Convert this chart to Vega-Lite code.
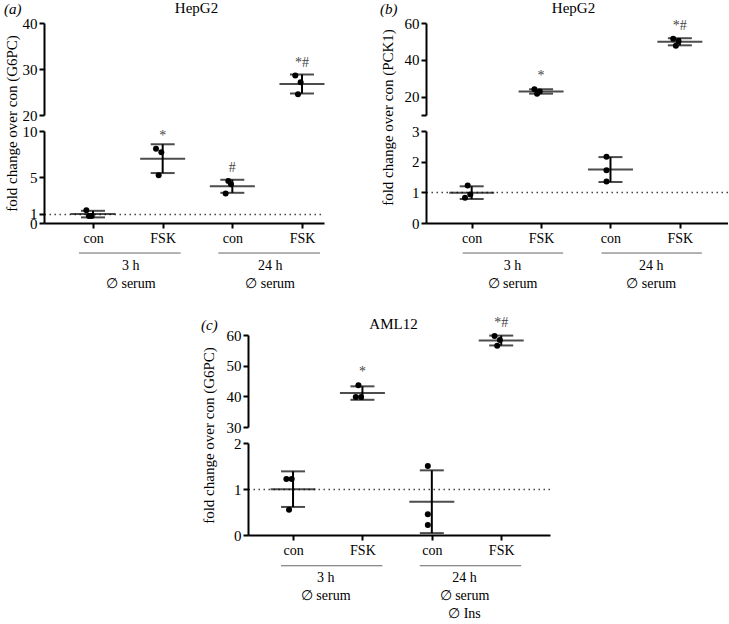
{
  "$schema": "https://vega.github.io/schema/vega-lite/v6.json",
  "background": "white",
  "padding": {"left": 4, "top": 0, "right": 0, "bottom": 0},
  "datasets": {
    "a": [
      {"cond": "con 3h", "rep": "L", "value": 1.38},
      {"cond": "con 3h", "rep": "C", "value": 0.76},
      {"cond": "con 3h", "rep": "R", "value": 0.76},
      {"cond": "FSK 3h", "rep": "L", "value": 8.08},
      {"cond": "FSK 3h", "rep": "R", "value": 7.7},
      {"cond": "FSK 3h", "rep": "C", "value": 5.2},
      {"cond": "con 24h", "rep": "C", "value": 4.57},
      {"cond": "con 24h", "rep": "R", "value": 4.2},
      {"cond": "con 24h", "rep": "L", "value": 3.2},
      {"cond": "FSK 24h", "rep": "L", "value": 28.6},
      {"cond": "FSK 24h", "rep": "R", "value": 27.1},
      {"cond": "FSK 24h", "rep": "C", "value": 24.5}
    ],
    "b": [
      {"cond": "con 3h", "rep": "C", "value": 1.22},
      {"cond": "con 3h", "rep": "L", "value": 0.82},
      {"cond": "con 3h", "rep": "R", "value": 0.93},
      {"cond": "FSK 3h", "rep": "L", "value": 24.0},
      {"cond": "FSK 3h", "rep": "C", "value": 21.6},
      {"cond": "FSK 3h", "rep": "R", "value": 22.8},
      {"cond": "con 24h", "rep": "C", "value": 2.16},
      {"cond": "con 24h", "rep": "C", "value": 1.72},
      {"cond": "con 24h", "rep": "C", "value": 1.35},
      {"cond": "FSK 24h", "rep": "L", "value": 51.5},
      {"cond": "FSK 24h", "rep": "R", "value": 50.2},
      {"cond": "FSK 24h", "rep": "C", "value": 47.7}
    ],
    "c": [
      {"cond": "con 3h", "rep": "L", "value": 1.22},
      {"cond": "con 3h", "rep": "R", "value": 1.22},
      {"cond": "con 3h", "rep": "C", "value": 0.55},
      {"cond": "FSK 3h", "rep": "C", "value": 43.6},
      {"cond": "FSK 3h", "rep": "L", "value": 39.8},
      {"cond": "FSK 3h", "rep": "R", "value": 39.8},
      {"cond": "con 24h", "rep": "C", "value": 1.5},
      {"cond": "con 24h", "rep": "C", "value": 0.45},
      {"cond": "con 24h", "rep": "C", "value": 0.22},
      {"cond": "FSK 24h", "rep": "L", "value": 59.7},
      {"cond": "FSK 24h", "rep": "R", "value": 58.4},
      {"cond": "FSK 24h", "rep": "C", "value": 56.5}
    ]
  },
  "vconcat": [
    {
      "hconcat": [
        {
          "vconcat": [
            {
              "width": 280, "height": 92,
              "title": {"text": "(a)", "anchor": "start", "frame": "bounds", "offset": -17, "fontStyle": "italic", "font": "Liberation Serif", "fontSize": 15, "fontWeight": "normal", "color": "black"},
              "data": {"name": "a"},
              "transform": [{"filter": "datum.value > 15"}],
              "encoding": {
                "x": {"field": "cond", "type": "nominal", "scale": {"type": "point", "domain": ["con 3h", "FSK 3h", "con 24h", "FSK 24h"], "padding": 0.51, "align": 0.69}, "axis": {"orient": "top", "title": "HepG2", "domain": false, "ticks": false, "labels": false, "grid": false, "titleY": -16, "titleBaseline": "middle", "titleX": 152, "titleFont": "Liberation Serif", "titleFontSize": 15, "titleFontWeight": "normal", "titleColor": "black"}},
                "y": {"field": "value", "type": "quantitative", "scale": {"domain": [20, 40], "nice": false, "zero": false}, "axis": {"values": [20, 30, 40], "title": "fold change over con (G6PC)", "titleY": 100, "titleX": -25, "domainColor": "black", "domainWidth": 2, "tickColor": "black", "tickWidth": 2, "tickSize": 5, "labelFont": "Liberation Serif", "labelFontSize": 15, "labelColor": "black", "labelPadding": 2, "labelOverlap": false, "labelBound": false, "titleFont": "Liberation Serif", "titleFontSize": 15, "titleFontWeight": "normal", "titleColor": "black", "grid": false}}
              },
              "layer": [
                {"mark": {"type": "errorbar", "extent": "stdev", "color": "black", "rule": {"strokeWidth": 2}, "ticks": {"size": 24, "thickness": 2}}},
                {"transform": [{"aggregate": [{"op": "mean", "field": "value", "as": "value"}], "groupby": ["cond"]}],
                 "mark": {"type": "tick", "orient": "horizontal", "size": 45, "thickness": 2, "color": "black"}},
                {"mark": {"type": "circle", "size": 36, "color": "black", "opacity": 1},
                 "encoding": {"xOffset": {"field": "rep", "type": "nominal", "scale": {"domain": ["L", "C", "R"], "range": [-8, 0, 8]}}}},
                {"transform": [
                   {"joinaggregate": [{"op": "max", "field": "value", "as": "vmax"}], "groupby": ["cond"]},
                   {"filter": "datum.value === datum.vmax"},
                   {"lookup": "cond", "from": {"data": {"values": [{"cond": "FSK 3h", "sig": "*"}, {"cond": "con 24h", "sig": "#"}, {"cond": "FSK 24h", "sig": "*#"}]}, "key": "cond", "fields": ["sig"]}},
                   {"filter": "isValid(datum.sig)"}],
                 "mark": {"type": "text", "dy": -12, "font": "Liberation Serif", "fontSize": 14, "fill": "#444"},
                 "encoding": {"text": {"field": "sig"}}}
              ]
            },
            {
              "width": 280, "height": 92,
              "data": {"name": "a"},
              "transform": [{"filter": "datum.value < 15"}],
              "encoding": {
                "x": {"field": "cond", "type": "nominal", "scale": {"type": "point", "domain": ["con 3h", "FSK 3h", "con 24h", "FSK 24h"], "padding": 0.51, "align": 0.69}, "axis": {"title": null, "labelExpr": "split(datum.value, ' ')[0]", "labelAngle": 0, "labelPadding": 3, "domainColor": "black", "domainWidth": 2, "tickColor": "black", "tickWidth": 2, "tickSize": 5, "labelFont": "Liberation Serif", "labelFontSize": 14, "labelColor": "black", "labelOverlap": false, "labelBound": false, "grid": false}},
                "y": {"field": "value", "type": "quantitative", "scale": {"domain": [0, 10], "nice": false, "zero": false}, "axis": {"values": [0, 1, 5, 10], "title": null, "domainColor": "black", "domainWidth": 2, "tickColor": "black", "tickWidth": 2, "tickSize": 5, "labelFont": "Liberation Serif", "labelFontSize": 15, "labelColor": "black", "labelPadding": 2, "labelOverlap": false, "labelBound": false, "grid": true, "gridColor": "#444", "gridWidth": 1.5, "gridDash": [1.5, 3.5], "gridOpacity": {"condition": {"test": "abs(datum.value - 1) < 0.001", "value": 1}, "value": 0}}}
              },
              "layer": [
                {"mark": {"type": "errorbar", "extent": "stdev", "color": "black", "rule": {"strokeWidth": 2}, "ticks": {"size": 24, "thickness": 2}}},
                {"transform": [{"aggregate": [{"op": "mean", "field": "value", "as": "value"}], "groupby": ["cond"]}],
                 "mark": {"type": "tick", "orient": "horizontal", "size": 45, "thickness": 2, "color": "black"}},
                {"mark": {"type": "circle", "size": 36, "color": "black", "opacity": 1},
                 "encoding": {"xOffset": {"field": "rep", "type": "nominal", "scale": {"domain": ["L", "C", "R"], "range": [-8, 0, 8]}}}},
                {"transform": [
                   {"joinaggregate": [{"op": "max", "field": "value", "as": "vmax"}], "groupby": ["cond"]},
                   {"filter": "datum.value === datum.vmax"},
                   {"lookup": "cond", "from": {"data": {"values": [{"cond": "FSK 3h", "sig": "*"}, {"cond": "con 24h", "sig": "#"}, {"cond": "FSK 24h", "sig": "*#"}]}, "key": "cond", "fields": ["sig"]}},
                   {"filter": "isValid(datum.sig)"}],
                 "mark": {"type": "text", "dy": -13, "font": "Liberation Serif", "fontSize": 14, "fill": "#444"},
                 "encoding": {"text": {"field": "sig"}}}
              ]
            },
            {
              "width": 280, "height": 54,
              "layer": [
                {"data": {"values": [{"first": 0, "last": 1}, {"first": 2, "last": 3}]},
                 "mark": {"type": "rule", "color": "#666", "strokeWidth": 1, "xOffset": -14, "x2Offset": 18},
                 "encoding": {
                   "x": {"field": "first", "type": "quantitative", "scale": {"domain": [-0.703, 3.316], "nice": false, "zero": false}, "axis": null},
                   "x2": {"field": "last"},
                   "y": {"datum": 0.28, "type": "quantitative", "scale": {"domain": [-0.5, 2.5], "reverse": true, "nice": false, "zero": false}, "axis": null}}},
                {"data": {"values": [
                   {"center": 0.5, "line": 1, "text": "3 h"},
                   {"center": 0.5, "line": 2, "text": "∅ serum"},
                   {"center": 2.5, "line": 1, "text": "24 h"},
                   {"center": 2.5, "line": 2, "text": "∅ serum"}]},
                 "mark": {"type": "text", "font": "Liberation Serif", "fontSize": 14, "baseline": "middle", "dx": 3, "fill": "black"},
                 "encoding": {
                   "x": {"field": "center", "type": "quantitative"},
                   "y": {"field": "line", "type": "quantitative"},
                   "text": {"field": "text"}}}
              ]
            }
          ],
          "spacing": 16,
          "bounds": "flush"
        },
        {
          "vconcat": [
            {
              "width": 302, "height": 92,
              "title": {"text": "(b)", "anchor": "start", "frame": "bounds", "offset": -17, "fontStyle": "italic", "font": "Liberation Serif", "fontSize": 15, "fontWeight": "normal", "color": "black"},
              "data": {"name": "b"},
              "transform": [{"filter": "datum.value > 5"}],
              "encoding": {
                "x": {"field": "cond", "type": "nominal", "scale": {"type": "point", "domain": ["con 3h", "FSK 3h", "con 24h", "FSK 24h"], "padding": 0.676, "align": 0.487}, "axis": {"orient": "top", "title": "HepG2", "domain": false, "ticks": false, "labels": false, "grid": false, "titleY": -16, "titleBaseline": "middle", "titleX": 147, "titleFont": "Liberation Serif", "titleFontSize": 15, "titleFontWeight": "normal", "titleColor": "black"}},
                "y": {"field": "value", "type": "quantitative", "scale": {"domain": [10, 60], "nice": false, "zero": false}, "axis": {"values": [10, 20, 40, 60], "labelExpr": "datum.value == 10 ? '' : datum.label", "title": "fold change over con (PCK1)", "titleY": 94, "titleX": -31, "domainColor": "black", "domainWidth": 2, "tickColor": "black", "tickWidth": 2, "tickSize": 5, "labelFont": "Liberation Serif", "labelFontSize": 15, "labelColor": "black", "labelPadding": 2, "labelOverlap": false, "labelBound": false, "titleFont": "Liberation Serif", "titleFontSize": 15, "titleFontWeight": "normal", "titleColor": "black", "grid": false}}
              },
              "layer": [
                {"mark": {"type": "errorbar", "extent": "stdev", "color": "black", "rule": {"strokeWidth": 2}, "ticks": {"size": 24, "thickness": 2}}},
                {"transform": [{"aggregate": [{"op": "mean", "field": "value", "as": "value"}], "groupby": ["cond"]}],
                 "mark": {"type": "tick", "orient": "horizontal", "size": 45, "thickness": 2, "color": "black"}},
                {"mark": {"type": "circle", "size": 36, "color": "black", "opacity": 1},
                 "encoding": {"xOffset": {"field": "rep", "type": "nominal", "scale": {"domain": ["L", "C", "R"], "range": [-8, 0, 8]}}}},
                {"transform": [
                   {"joinaggregate": [{"op": "max", "field": "value", "as": "vmax"}], "groupby": ["cond"]},
                   {"filter": "datum.value === datum.vmax"},
                   {"lookup": "cond", "from": {"data": {"values": [{"cond": "FSK 3h", "sig": "*"}, {"cond": "FSK 24h", "sig": "*#"}]}, "key": "cond", "fields": ["sig"]}},
                   {"filter": "isValid(datum.sig)"}],
                 "mark": {"type": "text", "dy": -13, "font": "Liberation Serif", "fontSize": 14, "fill": "#444"},
                 "encoding": {"text": {"field": "sig"}}}
              ]
            },
            {
              "width": 302, "height": 92,
              "data": {"name": "b"},
              "transform": [{"filter": "datum.value < 5"}],
              "encoding": {
                "x": {"field": "cond", "type": "nominal", "scale": {"type": "point", "domain": ["con 3h", "FSK 3h", "con 24h", "FSK 24h"], "padding": 0.676, "align": 0.487}, "axis": {"title": null, "labelExpr": "split(datum.value, ' ')[0]", "labelAngle": 0, "labelPadding": 3, "domainColor": "black", "domainWidth": 2, "tickColor": "black", "tickWidth": 2, "tickSize": 5, "labelFont": "Liberation Serif", "labelFontSize": 14, "labelColor": "black", "labelOverlap": false, "labelBound": false, "grid": false}},
                "y": {"field": "value", "type": "quantitative", "scale": {"domain": [0, 3], "nice": false, "zero": false}, "axis": {"values": [0, 1, 2, 3], "title": null, "domainColor": "black", "domainWidth": 2, "tickColor": "black", "tickWidth": 2, "tickSize": 5, "labelFont": "Liberation Serif", "labelFontSize": 15, "labelColor": "black", "labelPadding": 2, "labelOverlap": false, "labelBound": false, "grid": true, "gridColor": "#444", "gridWidth": 1.5, "gridDash": [1.5, 3.5], "gridOpacity": {"condition": {"test": "abs(datum.value - 1) < 0.001", "value": 1}, "value": 0}}}
              },
              "layer": [
                {"mark": {"type": "errorbar", "extent": "stdev", "color": "black", "rule": {"strokeWidth": 2}, "ticks": {"size": 24, "thickness": 2}}},
                {"transform": [{"aggregate": [{"op": "mean", "field": "value", "as": "value"}], "groupby": ["cond"]}],
                 "mark": {"type": "tick", "orient": "horizontal", "size": 45, "thickness": 2, "color": "black"}},
                {"mark": {"type": "circle", "size": 36, "color": "black", "opacity": 1},
                 "encoding": {"xOffset": {"field": "rep", "type": "nominal", "scale": {"domain": ["L", "C", "R"], "range": [-8, 0, 8]}}}}
              ]
            },
            {
              "width": 302, "height": 54,
              "layer": [
                {"data": {"values": [{"first": 0, "last": 1}, {"first": 2, "last": 3}]},
                 "mark": {"type": "rule", "color": "#666", "strokeWidth": 1, "xOffset": -9, "x2Offset": 22},
                 "encoding": {
                   "x": {"field": "first", "type": "quantitative", "scale": {"domain": [-0.659, 3.693], "nice": false, "zero": false}, "axis": null},
                   "x2": {"field": "last"},
                   "y": {"datum": 0.28, "type": "quantitative", "scale": {"domain": [-0.5, 2.5], "reverse": true, "nice": false, "zero": false}, "axis": null}}},
                {"data": {"values": [
                   {"center": 0.5, "line": 1, "text": "3 h"},
                   {"center": 0.5, "line": 2, "text": "∅ serum"},
                   {"center": 2.5, "line": 1, "text": "24 h"},
                   {"center": 2.5, "line": 2, "text": "∅ serum"}]},
                 "mark": {"type": "text", "font": "Liberation Serif", "fontSize": 14, "baseline": "middle", "dx": 6, "fill": "black"},
                 "encoding": {
                   "x": {"field": "center", "type": "quantitative"},
                   "y": {"field": "line", "type": "quantitative"},
                   "text": {"field": "text"}}}
              ]
            }
          ],
          "spacing": 16,
          "bounds": "flush"
        }
      ],
      "spacing": 54
    },
    {
      "hconcat": [
        {
          "width": 156, "height": 10,
          "data": {"values": []},
          "mark": {"type": "text"},
          "encoding": {}
        },
        {
          "vconcat": [
            {
              "width": 302, "height": 92,
              "title": {"text": "(c)", "anchor": "start", "frame": "bounds", "offset": -17, "fontStyle": "italic", "font": "Liberation Serif", "fontSize": 15, "fontWeight": "normal", "color": "black"},
              "data": {"name": "c"},
              "transform": [{"filter": "datum.value > 10"}],
              "encoding": {
                "x": {"field": "cond", "type": "nominal", "scale": {"type": "point", "domain": ["con 3h", "FSK 3h", "con 24h", "FSK 24h"], "padding": 0.676, "align": 0.48}, "axis": {"orient": "top", "title": "AML12", "domain": false, "ticks": false, "labels": false, "grid": false, "titleY": -12, "titleBaseline": "middle", "titleX": 145, "titleFont": "Liberation Serif", "titleFontSize": 15, "titleFontWeight": "normal", "titleColor": "black"}},
                "y": {"field": "value", "type": "quantitative", "scale": {"domain": [30, 60], "nice": false, "zero": false}, "axis": {"values": [30, 40, 50, 60], "title": "fold change over con (G6PC)", "titleY": 100, "titleX": -32, "domainColor": "black", "domainWidth": 2, "tickColor": "black", "tickWidth": 2, "tickSize": 5, "labelFont": "Liberation Serif", "labelFontSize": 15, "labelColor": "black", "labelPadding": 2, "labelOverlap": false, "labelBound": false, "titleFont": "Liberation Serif", "titleFontSize": 15, "titleFontWeight": "normal", "titleColor": "black", "grid": false}}
              },
              "layer": [
                {"mark": {"type": "errorbar", "extent": "stdev", "color": "black", "rule": {"strokeWidth": 2}, "ticks": {"size": 24, "thickness": 2}}},
                {"transform": [{"aggregate": [{"op": "mean", "field": "value", "as": "value"}], "groupby": ["cond"]}],
                 "mark": {"type": "tick", "orient": "horizontal", "size": 45, "thickness": 2, "color": "black"}},
                {"mark": {"type": "circle", "size": 36, "color": "black", "opacity": 1},
                 "encoding": {"xOffset": {"field": "rep", "type": "nominal", "scale": {"domain": ["L", "C", "R"], "range": [-8, 0, 8]}}}},
                {"transform": [
                   {"joinaggregate": [{"op": "max", "field": "value", "as": "vmax"}], "groupby": ["cond"]},
                   {"filter": "datum.value === datum.vmax"},
                   {"lookup": "cond", "from": {"data": {"values": [{"cond": "FSK 3h", "sig": "*"}, {"cond": "FSK 24h", "sig": "*#"}]}, "key": "cond", "fields": ["sig"]}},
                   {"filter": "isValid(datum.sig)"}],
                 "mark": {"type": "text", "dy": -13, "font": "Liberation Serif", "fontSize": 14, "fill": "#444"},
                 "encoding": {"text": {"field": "sig"}}}
              ]
            },
            {
              "width": 302, "height": 92,
              "data": {"name": "c"},
              "transform": [{"filter": "datum.value < 10"}],
              "encoding": {
                "x": {"field": "cond", "type": "nominal", "scale": {"type": "point", "domain": ["con 3h", "FSK 3h", "con 24h", "FSK 24h"], "padding": 0.676, "align": 0.48}, "axis": {"title": null, "labelExpr": "split(datum.value, ' ')[0]", "labelAngle": 0, "labelPadding": 3, "domainColor": "black", "domainWidth": 2, "tickColor": "black", "tickWidth": 2, "tickSize": 5, "labelFont": "Liberation Serif", "labelFontSize": 14, "labelColor": "black", "labelOverlap": false, "labelBound": false, "grid": false}},
                "y": {"field": "value", "type": "quantitative", "scale": {"domain": [0, 2], "nice": false, "zero": false}, "axis": {"values": [0, 1, 2], "labelExpr": "'' + datum.value", "title": null, "domainColor": "black", "domainWidth": 2, "tickColor": "black", "tickWidth": 2, "tickSize": 5, "labelFont": "Liberation Serif", "labelFontSize": 15, "labelColor": "black", "labelPadding": 2, "labelOverlap": false, "labelBound": false, "grid": true, "gridColor": "#444", "gridWidth": 1.5, "gridDash": [1.5, 3.5], "gridOpacity": {"condition": {"test": "abs(datum.value - 1) < 0.001", "value": 1}, "value": 0}}}
              },
              "layer": [
                {"mark": {"type": "errorbar", "extent": "stdev", "color": "black", "rule": {"strokeWidth": 2}, "ticks": {"size": 24, "thickness": 2}}},
                {"transform": [{"aggregate": [{"op": "mean", "field": "value", "as": "value"}], "groupby": ["cond"]}],
                 "mark": {"type": "tick", "orient": "horizontal", "size": 45, "thickness": 2, "color": "black"}},
                {"mark": {"type": "circle", "size": 36, "color": "black", "opacity": 1},
                 "encoding": {"xOffset": {"field": "rep", "type": "nominal", "scale": {"domain": ["L", "C", "R"], "range": [-8, 0, 8]}}}}
              ]
            },
            {
              "width": 302, "height": 72,
              "layer": [
                {"data": {"values": [{"first": 0, "last": 1}, {"first": 2, "last": 3}]},
                 "mark": {"type": "rule", "color": "#666", "strokeWidth": 1, "xOffset": -12, "x2Offset": 20},
                 "encoding": {
                   "x": {"field": "first", "type": "quantitative", "scale": {"domain": [-0.648, 3.703], "nice": false, "zero": false}, "axis": null},
                   "x2": {"field": "last"},
                   "y": {"datum": 0.32, "type": "quantitative", "scale": {"domain": [-0.5, 3.5], "reverse": true, "nice": false, "zero": false}, "axis": null}}},
                {"data": {"values": [
                   {"center": 0.5, "line": 1, "text": "3 h"},
                   {"center": 0.5, "line": 2, "text": "∅ serum"},
                   {"center": 2.5, "line": 1, "text": "24 h"},
                   {"center": 2.5, "line": 2, "text": "∅ serum"},
                   {"center": 2.5, "line": 3, "text": "∅ Ins"}]},
                 "mark": {"type": "text", "font": "Liberation Serif", "fontSize": 14, "baseline": "middle", "dx": -2, "fill": "black"},
                 "encoding": {
                   "x": {"field": "center", "type": "quantitative"},
                   "y": {"field": "line", "type": "quantitative"},
                   "text": {"field": "text"}}}
              ]
            }
          ],
          "spacing": 16,
          "bounds": "flush"
        }
      ],
      "spacing": 0
    }
  ],
  "spacing": 22,
  "config": {
    "font": "Liberation Serif",
    "view": {"stroke": null},
    "title": {"font": "Liberation Serif", "fontSize": 15, "fontWeight": "normal", "color": "black"},
    "text": {"font": "Liberation Serif"},
    "axis": {
      "domainColor": "black", "domainWidth": 2,
      "tickColor": "black", "tickWidth": 2, "tickSize": 5,
      "labelFont": "Liberation Serif", "labelFontSize": 14, "labelColor": "black", "labelPadding": 2,
      "titleFont": "Liberation Serif", "titleFontSize": 15, "titleFontWeight": "normal", "titleColor": "black"
    }
  }
}
